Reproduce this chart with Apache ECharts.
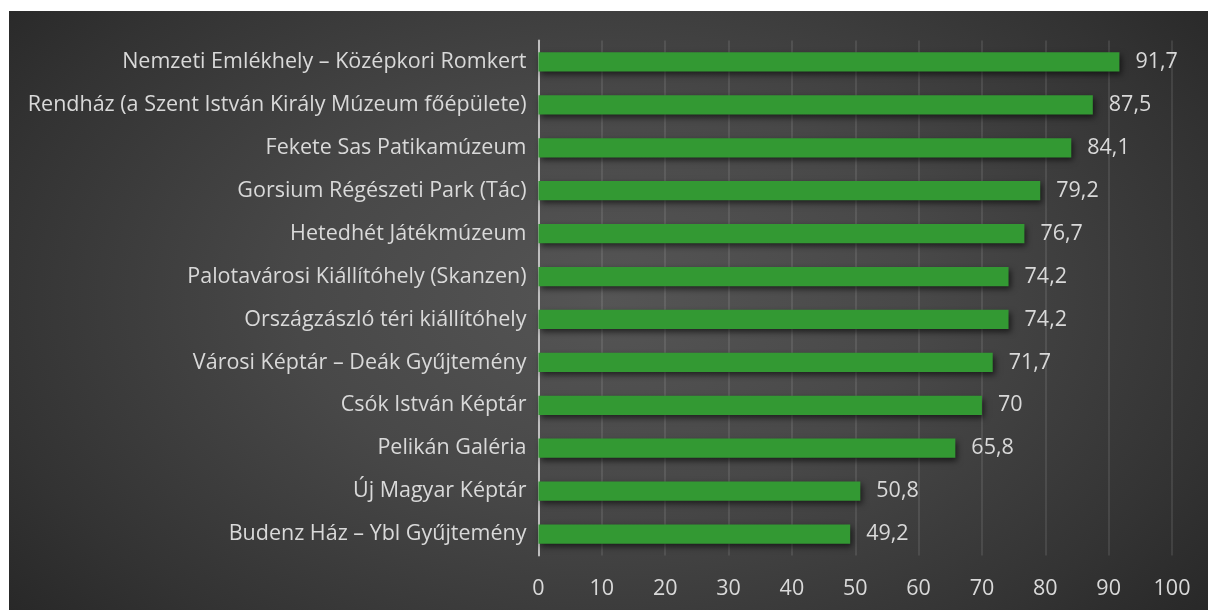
<!DOCTYPE html>
<html>
<head>
<meta charset="utf-8">
<script src="https://cdn.jsdelivr.net/npm/echarts@6/dist/echarts.min.js"></script>
<style>
  html, body { margin: 0; padding: 0; background: #ffffff; }
  #chart {
    position: absolute;
    left: 9px;
    top: 11px;
    width: 1199px;
    height: 599px;
    background: radial-gradient(ellipse 75% 95% at 50% 48%, #555555 0%, #484848 35%, #333333 70%, #1f1f1f 100%);
  }
</style>
</head>
<body>
<div id="chart"></div>
<script>
// categories bottom to top (as ECharts draws category axes)
const categories = [
  'Budenz Ház – Ybl Gyűjtemény',
  'Új Magyar Képtár',
  'Pelikán Galéria',
  'Csók István Képtár',
  'Városi Képtár – Deák Gyűjtemény',
  'Országzászló téri kiállítóhely',
  'Palotavárosi Kiállítóhely (Skanzen)',
  'Hetedhét Játékmúzeum',
  'Gorsium Régészeti Park (Tác)',
  'Fekete Sas Patikamúzeum',
  'Rendház (a Szent István Király Múzeum főépülete)',
  'Nemzeti Emlékhely – Középkori Romkert'
];
const values = [49.2, 50.8, 65.8, 70, 71.7, 74.2, 74.2, 76.7, 79.2, 84.1, 87.5, 91.7];
const xTicks = [0, 10, 20, 30, 40, 50, 60, 70, 80, 90, 100];

const textColor = '#d9d9d9';
const fontFamily = '"Open Sans", "Noto Sans", sans-serif';
const fontSize = 21.5;

const chart = echarts.init(document.getElementById('chart'));
chart.setOption({
  backgroundColor: 'transparent',
  animation: false,
  grid: {
    left: 529.5,
    right: 36,
    top: 29.5,
    bottom: 54.5
  },
  xAxis: {
    type: 'value',
    min: xTicks[0],
    max: xTicks[xTicks.length - 1],
    interval: 10,
    axisLine: { show: false },
    axisTick: { show: false },
    axisLabel: {
      color: textColor,
      fontSize: fontSize,
      fontFamily: fontFamily,
      margin: 22
    },
    splitLine: {
      show: true,
      lineStyle: { color: 'rgba(255, 255, 255, 0.13)', width: 1.5 }
    }
  },
  yAxis: {
    type: 'category',
    data: categories,
    axisLine: {
      show: true,
      lineStyle: { color: '#bfbfbf', width: 2 }
    },
    axisTick: { show: false },
    axisLabel: {
      color: textColor,
      fontSize: fontSize,
      fontFamily: fontFamily,
      margin: 12
    }
  },
  series: [{
    type: 'bar',
    data: values,
    barCategoryGap: '55%',
    itemStyle: {
      color: '#339933',
      shadowColor: 'rgba(0, 0, 0, 0.6)',
      shadowBlur: 6,
      shadowOffsetX: 2,
      shadowOffsetY: 3
    },
    label: {
      show: true,
      position: 'right',
      distance: 16,
      color: textColor,
      fontSize: fontSize,
      fontFamily: fontFamily,
      formatter: p => String(p.value).replace('.', ',')
    }
  }]
});
</script>
</body>
</html>
